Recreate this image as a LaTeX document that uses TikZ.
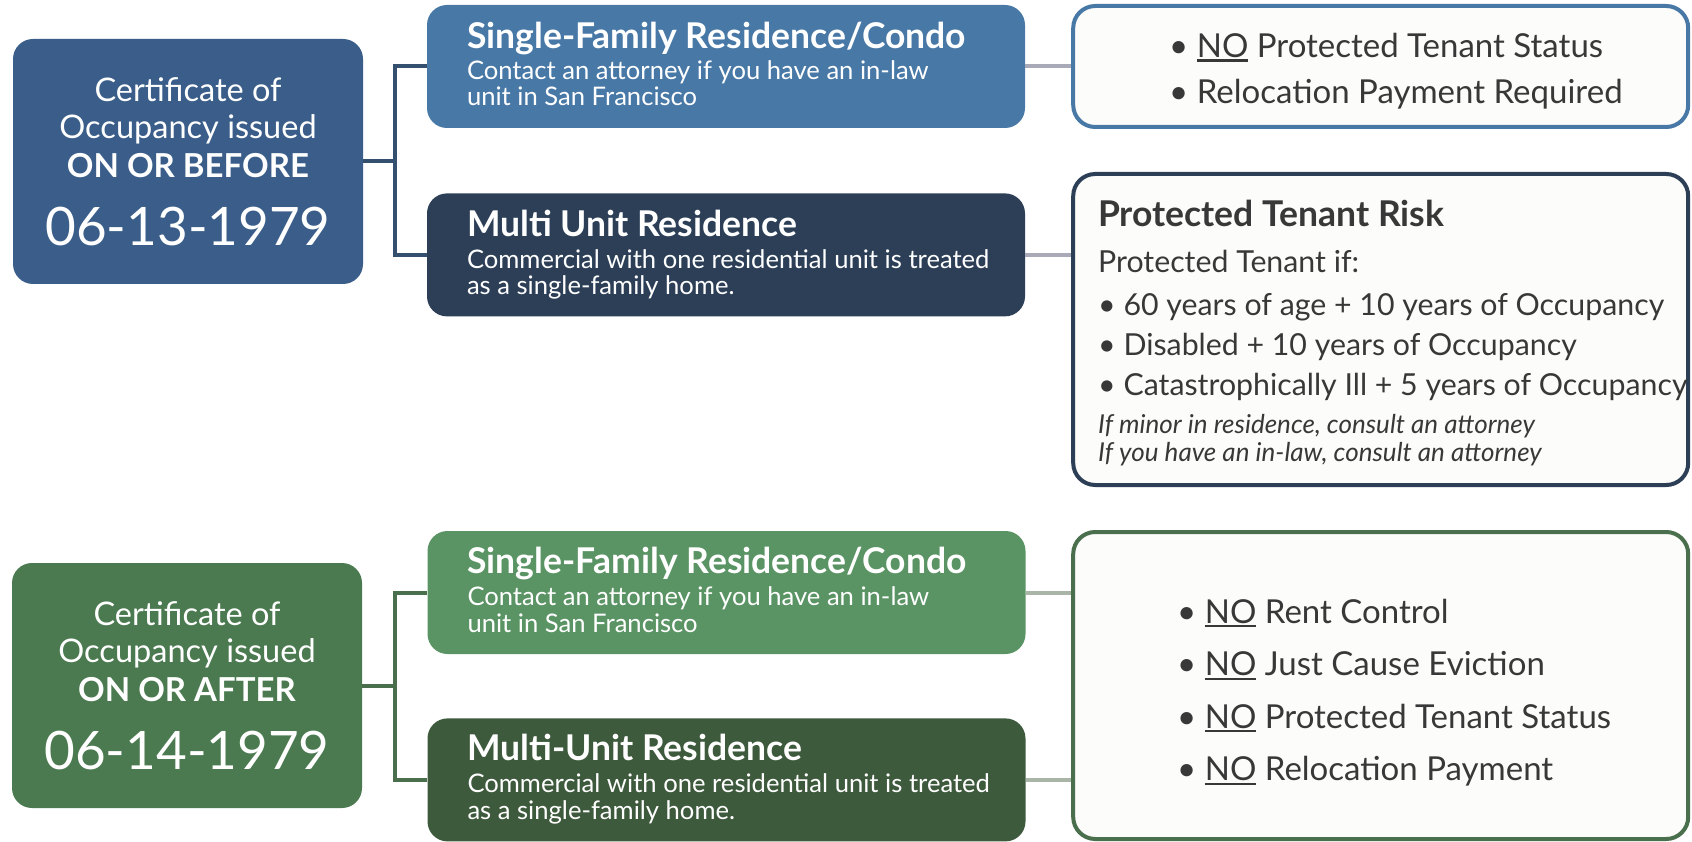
\documentclass[tikz,border=0pt]{standalone}
\usepackage{fontspec}
\setmainfont{Lato}
\usetikzlibrary{positioning,calc}

\definecolor{oldbox}{HTML}{3A5E89}
\definecolor{oldsfr}{HTML}{4878A6}
\definecolor{oldmulti}{HTML}{2C3F57}
\definecolor{oldline}{HTML}{34506E}
\definecolor{newbox}{HTML}{4B7A50}
\definecolor{newsfr}{HTML}{5B9464}
\definecolor{newmulti}{HTML}{3E5A3C}
\definecolor{newline}{HTML}{4A6F4C}
\definecolor{greylink}{HTML}{A9AAB8}
\definecolor{greenlink}{HTML}{A9B5A6}
\definecolor{inkgray}{HTML}{383838}
\definecolor{paper}{HTML}{FCFCFA}

% Sottolineato spesso e voci con pallino
\newcommand\undl[1]{\setbox0=\hbox{#1}\rlap{\rule[-4pt]{\wd0}{2.2pt}}\box0\relax}
\newcommand\bul[1]{\mbox{\textbullet\ #1}}
\newcommand\titlef{\fontsize{35.5}{40}\selectfont\bfseries}
\newcommand\subf[1]{\fontsize{25.6}{#1}\selectfont\mdseries}
\newcommand\lowstrut{\rule[-6pt]{0pt}{6pt}}

\tikzset{
  datebox/.style={rounded corners=20pt, minimum width=350pt, minimum height=245pt,
    text width=340pt, inner sep=5pt, align=flush center, text=white},
  kindbox/.style={rounded corners=20pt, minimum width=598pt, minimum height=123pt,
    text width=518pt, inner xsep=40pt, inner ysep=0pt, align=flush left, text=white},
  notebox/.style={draw, line width=4pt, rounded corners=22pt, fill=paper, outer sep=0pt,
    minimum width=615pt, text=inkgray, align=flush left},
  bracket/.style={line width=4pt},
  link/.style={line width=4pt}
}

\begin{document}
\begin{tikzpicture}[x=1pt,y=-1pt,node distance=60pt,
    execute at begin node={\spaceskip=0pt\xspaceskip=0pt}]
  \useasboundingbox (0,0) rectangle (1692,842);
  \fill[white] (0,0) rectangle (1692,842);

  % Prima del 1979
  \node[datebox, fill=oldbox] (old) at (188,161.5)
    {\fontsize{32.5}{37}\selectfont Certificate of\\
     Occupancy issued\\
     \fontsize{33}{39}\selectfont\bfseries ON OR BEFORE\\
     \fontsize{53}{68}\selectfont\mdseries 06-13-1979\par};
  \node[kindbox, fill=oldsfr] (sfr1) at (726,66.5)
    {\titlef Single-Family Residence/Condo\\
     \subf{31} Contact an attorney if you have an in-law\\
     \subf{26} unit in San Francisco\lowstrut\par};
  \node[kindbox, fill=oldmulti, below=65pt of sfr1] (multi1)
    {\titlef Multi Unit Residence\\
     \subf{32} \mbox{Commercial with one residential unit is treated}\\
     \subf{26} as a single-family home.\lowstrut\par};
  \node[notebox, draw=oldsfr, minimum height=121pt, text width=423pt, inner xsep=96pt,
    right=48pt of sfr1] (res1)
    {\fontsize{33}{46}\selectfont \rule{0pt}{34pt}\bul{\undl{NO} Protected Tenant Status}\\
     \bul{Relocation Payment Required}\par};
  \node[notebox, draw=oldmulti, minimum height=311pt, text width=565pt, inner xsep=25pt,
    below=47pt of res1] (risk)
    {\titlef \rule{0pt}{33pt}Protected Tenant Risk\\
     \fontsize{30.3}{46}\selectfont\mdseries Protected Tenant if:\\
     \fontsize{30.3}{43}\selectfont \bul{60 years of age + 10 years of Occupancy}\\
     \fontsize{30.3}{40}\selectfont \bul{Disabled + 10 years of Occupancy}\\
     \bul{Catastrophically Ill + 5 years of Occupancy}\\
     \fontsize{26}{38}\selectfont\itshape If minor in residence, consult an attorney\\
     \fontsize{26}{28}\selectfont If you have an in-law, consult an attorney\par};

  % Dopo il 1979
  \node[datebox, fill=newbox, minimum width=348pt] (new) at (187,685.5)
    {\fontsize{32.5}{37}\selectfont Certificate of\\
     Occupancy issued\\
     \fontsize{33}{39}\selectfont\bfseries ON OR AFTER\\
     \fontsize{53}{68}\selectfont\mdseries 06-14-1979\par};
  \node[kindbox, fill=newsfr] (sfr2) at (726.5,592.5)
    {\titlef Single-Family Residence/Condo\\
     \subf{32} Contact an attorney if you have an in-law\\
     \subf{27} unit in San Francisco\lowstrut\par};
  \node[kindbox, fill=newmulti, below=64pt of sfr2] (multi2)
    {\titlef Multi-Unit Residence\\
     \subf{32} \mbox{Commercial with one residential unit is treated}\\
     \subf{27} as a single-family home.\lowstrut\par};
  \node[notebox, draw=newline, minimum height=307pt, text width=407pt, inner xsep=104pt]
    (nores) at (res1.center |- new.center)
    {\fontsize{33}{52.5}\selectfont \rule{0pt}{38.6pt}\bul{\undl{NO} Rent Control}\\
     \bul{\undl{NO} Just Cause Eviction}\\
     \bul{\undl{NO} Protected Tenant Status}\\
     \bul{\undl{NO} Relocation Payment}\par};

  % Collegamenti
  \coordinate (j1) at ($(old.east)!0.5!(old.east -| sfr1.west)$);
  \coordinate (j2) at ($(new.east)!0.5!(new.east -| sfr2.west)$);
  \draw[bracket, oldline] (old.east) -- (j1);
  \draw[bracket, oldline] (sfr1.west) -| (j1) |- (multi1.west);
  \draw[bracket, newline] (new.east) -- (j2);
  \draw[bracket, newline] (sfr2.west) -| (j2) |- (multi2.west);
  \draw[link, greylink] (sfr1.east) -- ([xshift=-2pt]sfr1.east -| res1.west);
  \draw[link, greylink] (multi1.east) -- ([xshift=-2pt]multi1.east -| risk.west);
  \draw[link, greenlink] (sfr2.east) -- ([xshift=-2pt]sfr2.east -| nores.west);
  \draw[link, greenlink] (multi2.east) -- ([xshift=-2pt]multi2.east -| nores.west);
\end{tikzpicture}
\end{document}
